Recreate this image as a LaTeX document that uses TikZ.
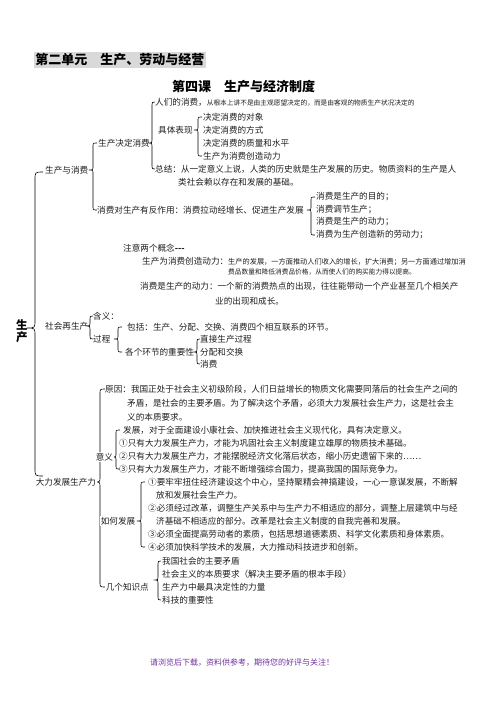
\documentclass[tikz,border=0pt]{standalone}
\usepackage{fontspec}
\setmainfont{Noto Sans CJK SC}
\definecolor{txt}{RGB}{30,30,30}
\definecolor{hl}{RGB}{217,217,217}
\definecolor{foot}{RGB}{112,48,160}
\newcommand\mybrace[5]{%
 \draw[br] ({#1+#5},#2) .. controls (#1,#2) .. (#1,{#2+#5}) -- (#1,{#3-#5})
   .. controls (#1,#3) .. ({#1-#5},#3) .. controls (#1,#3) .. (#1,{#3+#5})
   -- (#1,{#4-#5}) .. controls (#1,#4) .. ({#1+#5},#4);}
\newcommand\sm[1]{{\fontsize{6.7}{8}\selectfont #1}}
\newcommand\smb[1]{{\fontsize{7.2}{8}\selectfont #1}}
\begin{document}
\begin{tikzpicture}[x=1pt,y=-1pt,
  t/.style={anchor=west,inner sep=0pt,text=txt,font=\fontsize{8.6}{10}\selectfont},
  tw/.style={t,fill=white,inner sep=0.6pt},
  ttl/.style={anchor=west,inner sep=0pt,text=black,font=\fontsize{13}{15}\selectfont\bfseries},
  br/.style={draw=black,line width=0.6pt}]
\useasboundingbox (0,0) rectangle (496,702);
% titles
\node[ttl,fill=hl,inner sep=1.2pt] (title1) at (34,60) {第二单元　生产、劳动与经营};
\node[ttl] (title2) at (172,87) {第四课　生产与经济制度};
% braces
\mybrace{35}{172}{328}{476}{8}
\mybrace{93}{143}{170}{210}{4}
\mybrace{152}{102}{143}{169}{3}
\mybrace{198}{117}{130}{156}{4}
\mybrace{311}{197}{210}{235}{4}
\mybrace{90}{316}{326}{339}{3}
\mybrace{118}{327}{339}{352}{4}
\mybrace{197}{339}{352}{364}{3}
\mybrace{100}{389}{482}{587}{5}
\mybrace{116}{430}{457}{469}{4}
\mybrace{141}{482}{521}{547}{4}
\mybrace{158}{561}{580}{600}{3}
% root label
\node[anchor=center,inner sep=0pt,font=\fontsize{11.5}{12}\selectfont\bfseries] (sheng) at (22,325) {生};
\node[anchor=center,inner sep=0pt,font=\fontsize{11.5}{12}\selectfont\bfseries] (chan) at (22,337) {产};
% 生产与消费
\node[t] (scyxf) at (45,170) {生产与消费};
\node[t] (scjdxf) at (98,143) {生产决定消费};
\node[t] (rmdxf) at (155,102) {人们的消费，\sm{从根本上讲不是由主观愿望决定的，而是由客观的物质生产状况决定的}};
\node[t] (jtbx) at (158,130) {具体表现};
\node[t] (dx1) at (203,117) {决定消费的对象};
\node[t] (dx2) at (203,130) {决定消费的方式};
\node[t] (dx3) at (203,143) {决定消费的质量和水平};
\node[t] (dx4) at (203,156) {生产为消费创造动力};
\node[t] (zj1) at (155,169) {总结：从一定意义上说，人类的历史就是生产发展的历史。物质资料的生产是人};
\node[t] (zj2) at (178,182) {类社会赖以存在和发展的基础。};
\node[t] (xffzy) at (97,210) {消费对生产有反作用：消费拉动经增长、促进生产发展};
\node[t] (r1) at (316,197) {消费是生产的目的；};
\node[t] (r2) at (316,210) {消费调节生产；};
\node[t] (r3) at (316,222) {消费是生产的动力；};
\node[t] (r4) at (316,235) {消费为生产创造新的劳动力；};
\node[t] (zy) at (123,248) {注意两个概念\textbf{-{}-{}-}};
\node[t] (g1a) at (142,261) {生产为消费创造动力：\smb{生产的发展，一方面推动人们收入的增长，扩大消费；另一方面通过增加消}};
\node[t] (g1b) at (228,272) {\sm{费品数量和降低消费品价格，从而使人们的购买能力得以提高。}};
\node[t] (g2a) at (140,286) {消费是生产的动力：一个新的消费热点的出现，往往能带动一个产业甚至几个相关产};
\node[t] (g2b) at (215,301) {业的出现和成长。};
% 社会再生产
\node[t] (shzsc) at (45,326) {社会再生产};
\node[t] (hy) at (93,316) {含义：};
\node[t] (gc) at (93,339) {过程};
\node[t] (bk) at (127,327) {包括：生产、分配、交换、消费四个相互联系的环节。};
\node[t] (gg) at (125,352) {各个环节的重要性};
\node[t] (c1) at (200,339) {直接生产过程};
\node[t] (c2) at (200,352) {分配和交换};
\node[t] (c3) at (200,364) {消费};
% 大力发展生产力
\node[tw] (dl) at (35,482) {大力发展生产力};
\node[t] (yy1) at (105,389) {原因：我国正处于社会主义初级阶段，人们日益增长的物质文化需要同落后的社会生产之间的};
\node[t] (yy2) at (127,403) {矛盾，是社会的主要矛盾。为了解决这个矛盾，必须大力发展社会生产力，这是社会主};
\node[t] (yy3) at (127,417) {义的本质要求。};
\node[tw] (yiyi) at (95,457) {意义};
\node[t] (m0) at (123,430) {发展，对于全面建设小康社会、加快推进社会主义现代化，具有决定意义。};
\node[t] (m1) at (119,443) {①只有大力发展生产力，才能为巩固社会主义制度建立雄厚的物质技术基础。};
\node[t] (m2) at (119,456) {②只有大力发展生产力，才能摆脱经济文化落后状态，缩小历史遗留下来的……};
\node[t] (m3) at (119,469) {③只有大力发展生产力，才能不断增强综合国力，提高我国的国际竞争力。};
\node[tw] (rhfz) at (100,521) {如何发展};
\node[t] (h1a) at (148,482) {①要牢牢扭住经济建设这个中心，坚持聚精会神搞建设，一心一意谋发展，不断解};
\node[t] (h1b) at (156,495) {放和发展社会生产力。};
\node[t] (h2a) at (148,508) {②必须经过改革，调整生产关系中与生产力不相适应的部分，调整上层建筑中与经};
\node[t] (h2b) at (156,521) {济基础不相适应的部分。改革是社会主义制度的自我完善和发展。};
\node[t] (h3) at (148,534) {③必须全面提高劳动者的素质，包括思想道德素质、科学文化素质和身体素质。};
\node[t] (h4) at (148,547) {④必须加快科学技术的发展，大力推动科技进步和创新。};
\node[tw] (jgzsd) at (105,587) {几个知识点};
\node[t] (k1) at (162,561) {我国社会的主要矛盾};
\node[t] (k2) at (162,574) {社会主义的本质要求（解决主要矛盾的根本手段）};
\node[t] (k3) at (162,587) {生产力中最具决定性的力量};
\node[t] (k4) at (162,600) {科技的重要性};
% footer
\node[anchor=west,inner sep=0pt,text=foot,font=\fontsize{8}{9}\selectfont] (footer) at (150,663) {请浏览后下载，资料供参考，期待您的好评与关注！};
\end{tikzpicture}
\end{document}
